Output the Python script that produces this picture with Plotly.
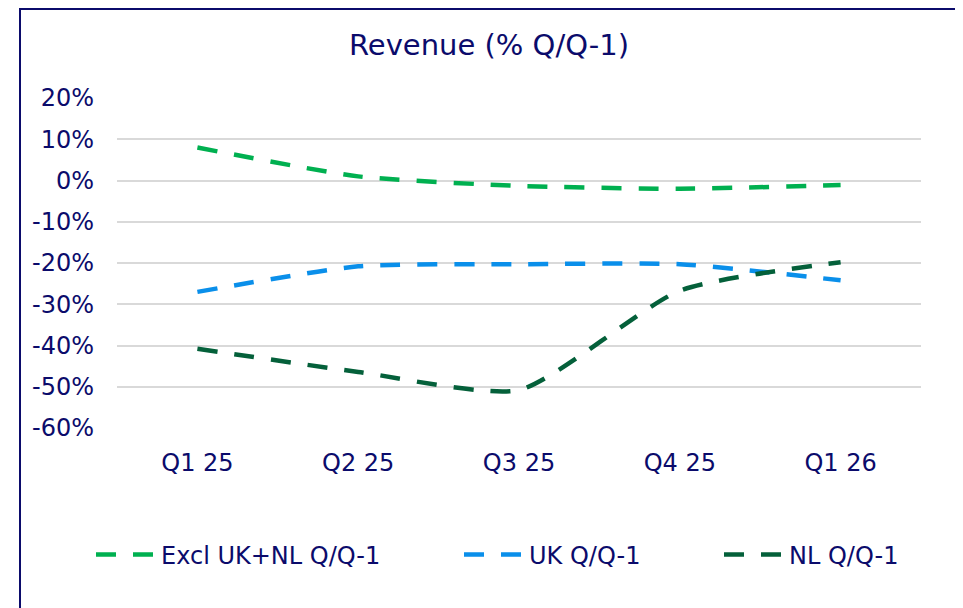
import plotly.graph_objects as go

quarters = ["Q1 25", "Q2 25", "Q3 25", "Q4 25", "Q1 26"]
excl_uk_nl = [8.0, 1.0, -1.3, -2.0, -1.1]
uk = [-27.0, -20.8, -20.3, -20.3, -24.2]
nl = [-40.8, -46.4, -50.8, -26.7, -19.8]
y_ticks = [20, 10, 0, -10, -20, -30, -40, -50, -60]

navy = "#0B0B6B"
font = "DejaVu Sans"

# page has an 8px body margin; figure coordinates = page coordinates - 8
OFF = 8
W, H = 963 - OFF, 608 - OFF
ml, mr, mt, mb = 117 - OFF, W - (921 - OFF), 98 - OFF, H - (428 - OFF)
pw, ph = W - ml - mr, H - mt - mb

def px_x(p):
    return (p - OFF - ml) / pw

def px_y(p):
    return (H - mb - (p - OFF)) / ph

fig = go.Figure()
series = [
    ("Excl UK+NL Q/Q-1", excl_uk_nl, "#00B050", "legend", 163),
    ("UK Q/Q-1", uk, "#0A8FEA", "legend2", 531),
    ("NL Q/Q-1", nl, "#04603A", "legend3", 791),
]
legend_layouts = {}
for name, vals, col, leg, text_x in series:
    fig.add_trace(go.Scatter(
        x=quarters, y=vals, name=name, mode="lines", legend=leg,
        line=dict(color=col, width=4.5, dash="20px,17px", shape="spline", smoothing=0.6),
    ))
    legend_layouts[leg] = dict(
        orientation="h", x=px_x(text_x - 72), xanchor="left", y=px_y(555), yanchor="middle",
        itemwidth=60, bgcolor="rgba(0,0,0,0)",
        font=dict(family=font, size=24, color=navy),
    )

fig.add_shape(type="rect", xref="paper", yref="paper",
              x0=px_x(20), x1=px_x(957), y0=px_y(630), y1=px_y(9),
              line=dict(color=navy, width=2), fillcolor="rgba(0,0,0,0)", layer="above")

fig.update_layout(
    width=W, height=H,
    margin=dict(l=ml, r=mr, t=mt, b=mb),
    paper_bgcolor="white", plot_bgcolor="white",
    title=dict(text="Revenue (% Q/Q-1)", x=(489 - OFF) / W, xanchor="center",
               y=1 - (45 - OFF) / H, yanchor="middle",
               font=dict(family=font, size=29, color=navy)),
    font=dict(family=font, color=navy, size=24),
    showlegend=True,
    xaxis=dict(range=[-0.5, 4.5], showgrid=False, showline=False, zeroline=False, ticks="",
               tickfont=dict(family=font, size=24, color=navy), ticklabelstandoff=18),
    yaxis=dict(range=[-60, 20], tickvals=y_ticks, ticktext=[f"{v}%" for v in y_ticks],
               showgrid=True, gridcolor="#D9D9D9", gridwidth=1.5, zeroline=False,
               showline=False, ticks="", ticklabelstandoff=22,
               tickfont=dict(family=font, size=24, color=navy)),
    **legend_layouts,
)

fig.write_html("out.html")
